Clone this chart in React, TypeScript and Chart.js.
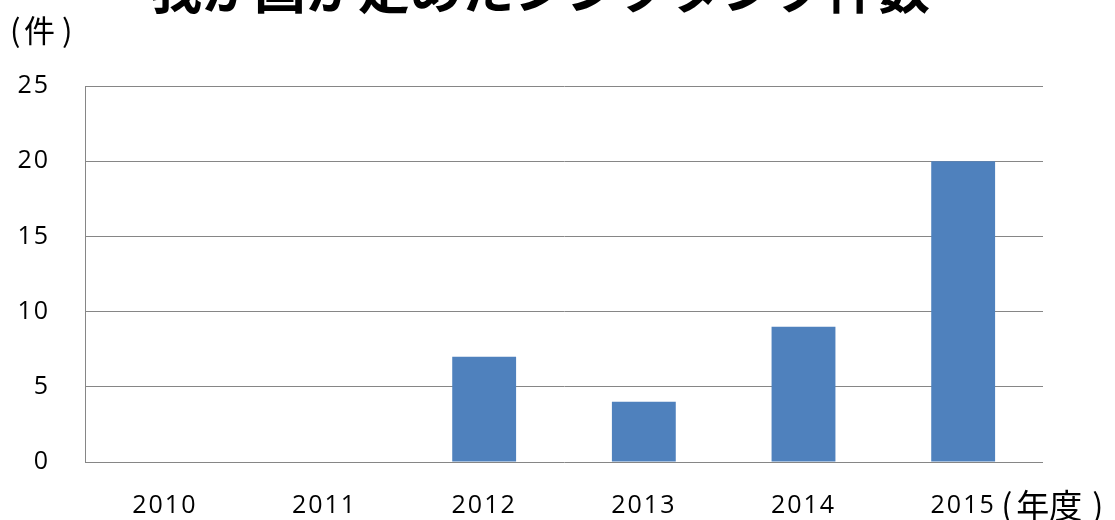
import { useEffect, useRef } from 'react';
import { Chart, registerables } from 'chart.js';

Chart.register(...registerables);

const titleText = '我が国が定めたシンクタンク件数';
const categories = ['2010', '2011', '2012', '2013', '2014', '2015'];
const counts = [0, 0, 7, 4, 9, 20];
const yMin = 0;
const yMax = 25;
const yStep = 5;
const yUnit = '件';
const xUnit = '年度';

const tickFont = { family: '"Open Sans", Lato, sans-serif', size: 25 };
const cjk = '"Noto Sans CJK JP", sans-serif';

const textPlugin = {
  id: 'extraTexts',
  beforeDraw(chart: any) {
    chart.ctx.letterSpacing = '2px';
  },
  afterDraw(chart: any) {
    const ctx = chart.ctx;
    ctx.save();
    ctx.letterSpacing = '0px';
    ctx.fillStyle = '#000';
    // title (cut off at top)
    ctx.font = `bold 52px ${cjk}`;
    ctx.textAlign = 'center';
    ctx.textBaseline = 'alphabetic';
    ctx.fillText(titleText, 540, 9);
    // y unit
    ctx.textAlign = 'left';
    ctx.textBaseline = 'middle';
    ctx.font = `31px ${cjk}`;
    ctx.fillText('(', 10, 30);
    ctx.fillText(yUnit, 24, 30);
    ctx.fillText(')', 62, 30);
    // x unit after last category label
    const xs = chart.scales.x;
    const lastX = xs.getPixelForValue(categories.length - 1);
    const yMid = chart.chartArea.bottom + 43;
    ctx.font = `33px ${cjk}`;
    ctx.fillText('(', lastX + 38, yMid);
    ctx.fillText(xUnit, lastX + 53, yMid);
    ctx.fillText(')', lastX + 129, yMid);
    ctx.restore();
  },
};

export default function App() {
  const ref = useRef<HTMLCanvasElement>(null);
  useEffect(() => {
    const chart = new Chart(ref.current as HTMLCanvasElement, {
      type: 'bar',
      data: {
        labels: categories,
        datasets: [
          {
            data: counts,
            backgroundColor: '#4F81BD',
            barPercentage: 0.4,
            categoryPercentage: 1,
          },
        ],
      },
      options: {
        responsive: false,
        animation: false,
        devicePixelRatio: 1,
        layout: { padding: { left: 0, right: 72, top: 86, bottom: 0 } },
        plugins: {
          legend: { display: false },
          tooltip: { enabled: false },
          title: { display: false },
        },
        scales: {
          x: {
            grid: { display: false, drawTicks: false },
            border: { display: false },
            ticks: { font: tickFont, color: '#000', padding: 29, maxRotation: 0 },
            afterFit: (s: any) => {
              s.height = 58;
            },
          },
          y: {
            min: yMin,
            max: yMax,
            ticks: { stepSize: yStep, font: tickFont, color: '#000', padding: 35 },
            grid: { color: '#868686', drawTicks: false },
            border: { display: true, color: '#868686' },
            afterFit: (s: any) => {
              s.width = 85;
            },
          },
        },
      },
      plugins: [textPlugin],
    } as any);
    return () => chart.destroy();
  }, []);
  return (
    <div style={{ position: 'absolute', left: 0, top: 0, width: 1115, height: 520, background: '#fff' }}>
      <canvas ref={ref} width={1115} height={520} style={{ display: 'block' }} />
    </div>
  );
}
